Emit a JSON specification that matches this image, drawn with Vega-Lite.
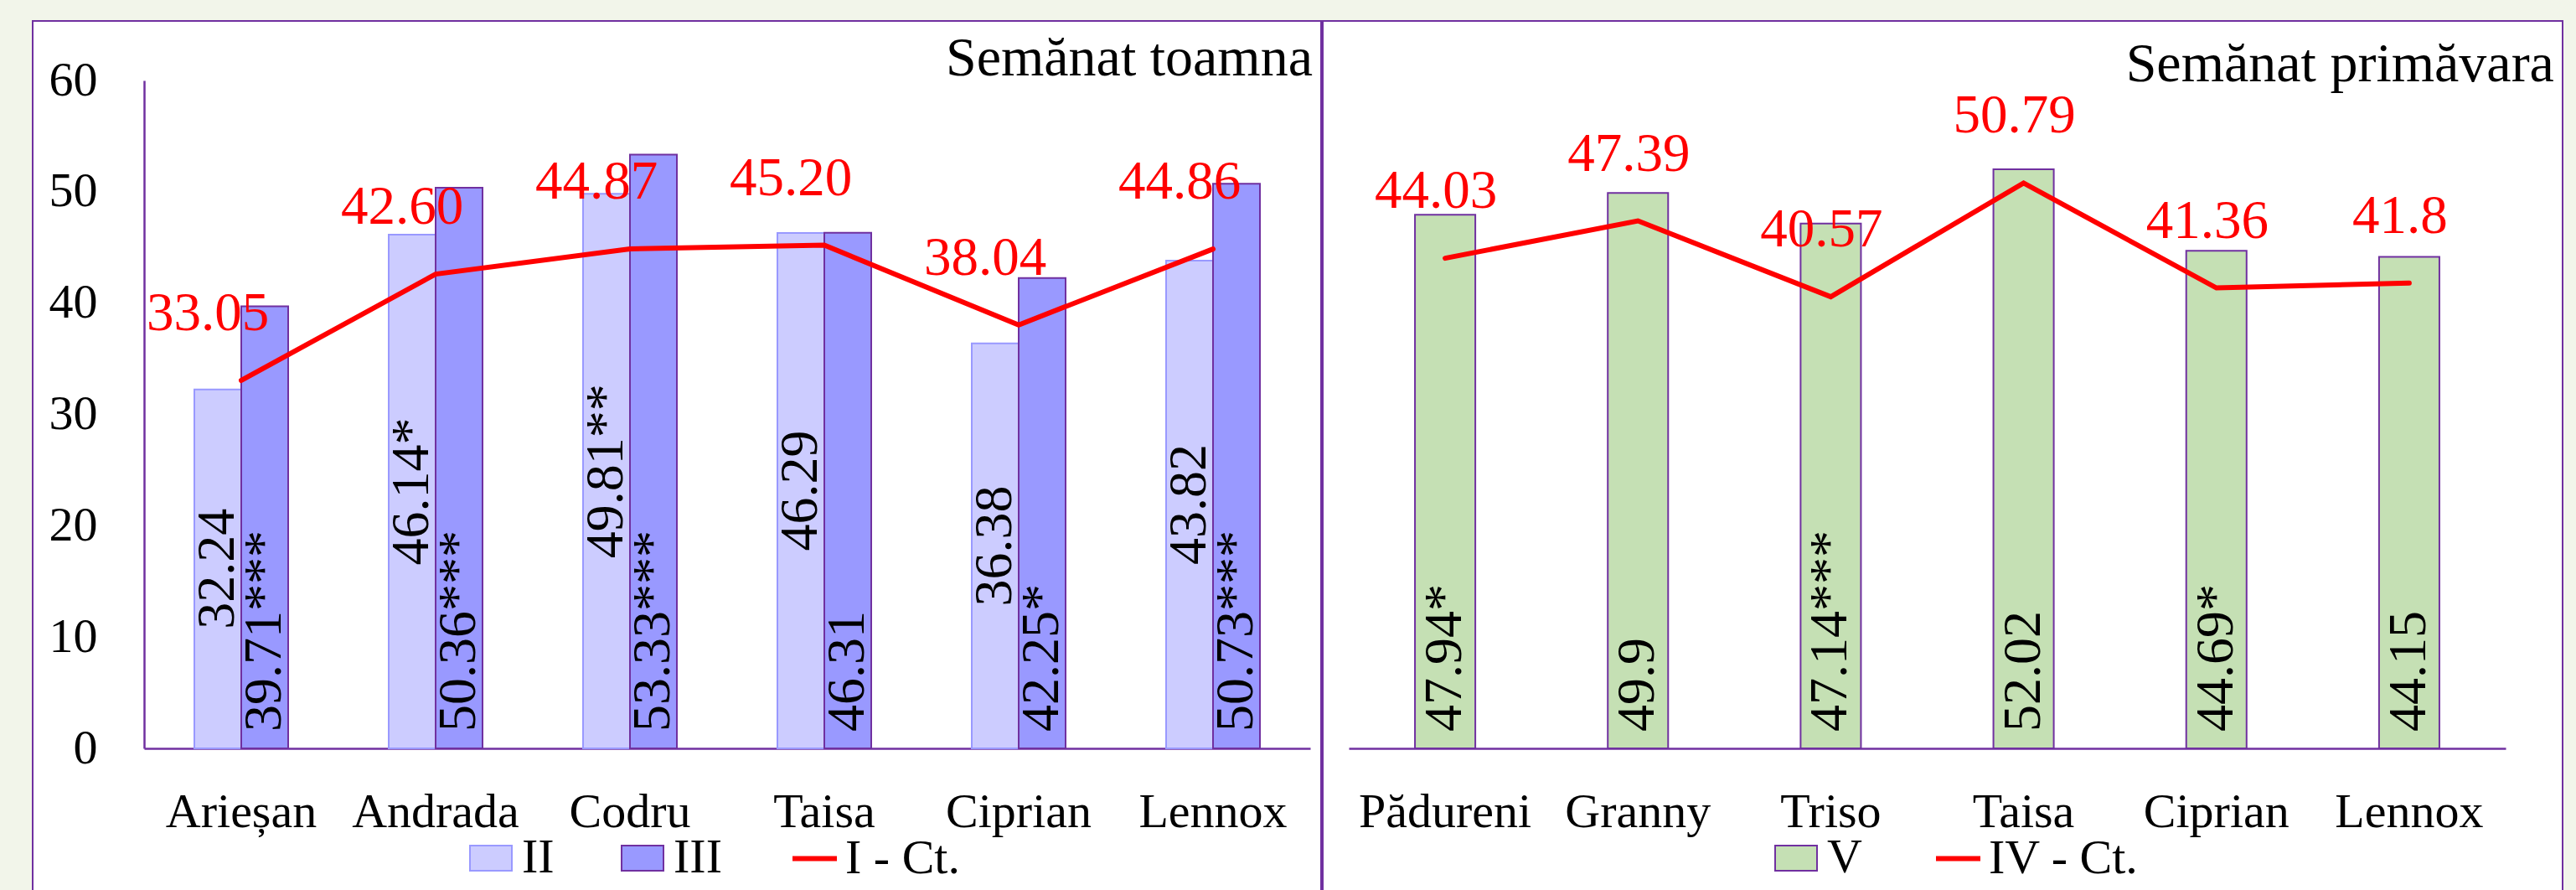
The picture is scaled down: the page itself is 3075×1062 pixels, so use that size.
{
  "$schema": "https://vega.github.io/schema/vega-lite/v6.json",
  "background": "#F2F5EA",
  "padding": {"left": 38, "top": 24, "right": 19, "bottom": 0},
  "autosize": {"type": "pad"},
  "spacing": 0,
  "datasets": {
    "toamna": [
      {"soi": "Arieșan", "serie": "II", "v": 32.24, "lab": "32.24"},
      {"soi": "Arieșan", "serie": "III", "v": 39.71, "lab": "39.71***"},
      {"soi": "Andrada", "serie": "II", "v": 46.14, "lab": "46.14*"},
      {"soi": "Andrada", "serie": "III", "v": 50.36, "lab": "50.36***"},
      {"soi": "Codru", "serie": "II", "v": 49.81, "lab": "49.81**"},
      {"soi": "Codru", "serie": "III", "v": 53.33, "lab": "53.33***"},
      {"soi": "Taisa", "serie": "II", "v": 46.29, "lab": "46.29"},
      {"soi": "Taisa", "serie": "III", "v": 46.31, "lab": "46.31"},
      {"soi": "Ciprian", "serie": "II", "v": 36.38, "lab": "36.38"},
      {"soi": "Ciprian", "serie": "III", "v": 42.25, "lab": "42.25*"},
      {"soi": "Lennox", "serie": "II", "v": 43.82, "lab": "43.82"},
      {"soi": "Lennox", "serie": "III", "v": 50.73, "lab": "50.73***"}
    ],
    "toamnaCt": [
      {"soi": "Arieșan", "ct": "I - Ct.", "v": 33.05, "lab": "33.05"},
      {"soi": "Andrada", "ct": "I - Ct.", "v": 42.60, "lab": "42.60"},
      {"soi": "Codru", "ct": "I - Ct.", "v": 44.87, "lab": "44.87"},
      {"soi": "Taisa", "ct": "I - Ct.", "v": 45.20, "lab": "45.20"},
      {"soi": "Ciprian", "ct": "I - Ct.", "v": 38.04, "lab": "38.04"},
      {"soi": "Lennox", "ct": "I - Ct.", "v": 44.86, "lab": "44.86"}
    ],
    "primavara": [
      {"soi": "Pădureni", "serie": "V", "v": 47.94, "lab": "47.94*"},
      {"soi": "Granny", "serie": "V", "v": 49.9, "lab": "49.9"},
      {"soi": "Triso", "serie": "V", "v": 47.14, "lab": "47.14***"},
      {"soi": "Taisa", "serie": "V", "v": 52.02, "lab": "52.02"},
      {"soi": "Ciprian", "serie": "V", "v": 44.69, "lab": "44.69*"},
      {"soi": "Lennox", "serie": "V", "v": 44.15, "lab": "44.15"}
    ],
    "primavaraCt": [
      {"soi": "Pădureni", "ct": "IV - Ct.", "v": 44.03, "lab": "44.03"},
      {"soi": "Granny", "ct": "IV - Ct.", "v": 47.39, "lab": "47.39"},
      {"soi": "Triso", "ct": "IV - Ct.", "v": 40.57, "lab": "40.57"},
      {"soi": "Taisa", "ct": "IV - Ct.", "v": 50.79, "lab": "50.79"},
      {"soi": "Ciprian", "ct": "IV - Ct.", "v": 41.36, "lab": "41.36"},
      {"soi": "Lennox", "ct": "IV - Ct.", "v": 41.8, "lab": "41.8"}
    ],
    "titluri": [
      {"panou": "toamna", "t": "Semănat toamna"},
      {"panou": "primavara", "t": "Semănat primăvara"}
    ]
  },
  "config": {
    "font": "Liberation Serif",
    "view": {"stroke": "#7030A0", "strokeWidth": 2, "fill": "white"},
    "axis": {"domainColor": "#7030A0", "domainWidth": 2.5, "ticks": false, "tickSize": 0, "grid": false, "labelFont": "Liberation Serif", "labelColor": "black"},
    "legend": {"labelFont": "Liberation Serif", "labelColor": "black"},
    "text": {"font": "Liberation Serif"}
  },
  "resolve": {"scale": {"x": "independent", "y": "independent", "xOffset": "independent", "fill": "independent", "stroke": "independent", "color": "independent"}},
  "hconcat": [
    {
      "width": 1538,
      "height": 1038,
      "resolve": {"scale": {"y": "independent"}},
      "layer": [
        {
          "data": {"name": "toamna"},
          "mark": {"type": "bar", "strokeWidth": 2},
          "encoding": {
            "x": {"field": "soi", "type": "nominal", "scale": {"domain": ["Arieșan", "Andrada", "Codru", "Taisa", "Ciprian", "Lennox"], "range": [133, 1525], "paddingInner": 0.5172, "paddingOuter": 0.2586}, "axis": {"orient": "bottom", "offset": -170, "labelFontSize": 58, "labelPadding": 47, "labelAngle": 0, "labelLimit": 400, "title": null}},
            "xOffset": {"field": "serie", "type": "nominal", "scale": {"domain": ["II", "III"]}},
            "y": {"field": "v", "type": "quantitative", "scale": {"domain": [0, 60], "range": [868, 71], "nice": false}, "axis": {"orient": "left", "offset": -133, "values": [0, 10, 20, 30, 40, 50, 60], "labelFontSize": 58, "labelPadding": 56, "title": null}},
            "fill": {"field": "serie", "type": "nominal", "scale": {"domain": ["II", "III"], "range": ["#CCCCFF", "#9999FF"]}, "legend": {"orient": "none", "legendX": 518, "legendY": 970, "direction": "horizontal", "title": null, "symbolType": "M-1,-0.6H1V0.6H-1Z", "symbolSize": 2500, "symbolStrokeWidth": 2, "labelFontSize": 58, "labelOffset": 8, "columnPadding": 76, "labelLimit": 500, "padding": 0}},
            "stroke": {"field": "serie", "type": "nominal", "scale": {"domain": ["II", "III"], "range": ["#9999FF", "#7030A0"]}, "legend": {"orient": "none", "legendX": 518, "legendY": 970, "direction": "horizontal", "title": null, "symbolType": "M-1,-0.6H1V0.6H-1Z", "symbolSize": 2500, "symbolStrokeWidth": 2, "labelFontSize": 58, "labelOffset": 8, "columnPadding": 76, "labelLimit": 500, "padding": 0}}
          }
        },
        {
          "data": {"name": "toamnaCt"},
          "mark": {"type": "line", "strokeWidth": 6, "strokeCap": "round"},
          "encoding": {
            "x": {"field": "soi", "type": "nominal"},
            "y": {"field": "v", "type": "quantitative", "scale": {"domain": [0, 60], "range": [868, 71], "nice": false}, "axis": null},
            "color": {"field": "ct", "type": "nominal", "scale": {"domain": ["I - Ct."], "range": ["#FF0000"]}, "legend": {"orient": "none", "legendX": 904, "legendY": 970, "title": null, "symbolType": "stroke", "symbolSize": 2809, "symbolStrokeWidth": 6, "labelFontSize": 58, "labelOffset": 7, "labelLimit": 500, "padding": 0}}
          }
        },
        {
          "data": {"name": "toamnaCt"},
          "mark": {"type": "text", "fontSize": 65, "color": "#FF0000", "baseline": "alphabetic", "align": "center", "dx": -40, "dy": -60},
          "encoding": {
            "x": {"field": "soi", "type": "nominal"},
            "y": {"field": "v", "type": "quantitative", "scale": {"domain": [0, 60], "range": [868, 71], "nice": false}, "axis": null},
            "text": {"field": "lab", "type": "nominal"}
          }
        },
        {
          "data": {"name": "toamna"},
          "transform": [{"filter": "datum.serie === 'II'"}],
          "mark": {"type": "text", "fontSize": 64, "color": "black", "angle": 270, "align": "center", "baseline": "middle"},
          "encoding": {
            "x": {"field": "soi", "type": "nominal"},
            "xOffset": {"field": "serie", "type": "nominal", "scale": {"domain": ["II", "III"]}},
            "y": {"field": "v", "type": "quantitative", "scale": {"domain": [0, 120], "range": [868, 71], "nice": false}, "axis": null},
            "text": {"field": "lab", "type": "nominal"}
          }
        },
        {
          "data": {"name": "toamna"},
          "transform": [{"filter": "datum.serie === 'III'"}],
          "mark": {"type": "text", "fontSize": 64, "color": "black", "angle": 270, "align": "left", "baseline": "middle", "dx": 20},
          "encoding": {
            "x": {"field": "soi", "type": "nominal"},
            "xOffset": {"field": "serie", "type": "nominal", "scale": {"domain": ["II", "III"]}},
            "y": {"datum": 0, "type": "quantitative", "scale": {"domain": [0, 60], "range": [868, 71], "nice": false}, "axis": null},
            "text": {"field": "lab", "type": "nominal"}
          }
        },
        {
          "data": {"name": "titluri"},
          "transform": [{"filter": "datum.panou === 'toamna'"}],
          "mark": {"type": "text", "fontSize": 66, "color": "black", "align": "right", "baseline": "alphabetic", "dx": 119},
          "encoding": {
            "x": {"datum": "Lennox", "type": "nominal"},
            "y": {"datum": 60.45, "type": "quantitative", "scale": {"domain": [0, 60], "range": [868, 71], "nice": false}, "axis": null},
            "text": {"field": "t", "type": "nominal"}
          }
        }
      ]
    },
    {
      "width": 1480,
      "height": 1038,
      "layer": [
        {
          "data": {"name": "primavara"},
          "mark": {"type": "bar", "strokeWidth": 2},
          "encoding": {
            "x": {"field": "soi", "type": "nominal", "scale": {"domain": ["Pădureni", "Granny", "Triso", "Taisa", "Ciprian", "Lennox"], "range": [31, 1412], "paddingInner": 0.687, "paddingOuter": 0.3435}, "axis": {"orient": "bottom", "offset": -170, "labelFontSize": 58, "labelPadding": 47, "labelAngle": 0, "labelLimit": 400, "title": null}},
            "y": {"field": "v", "type": "quantitative", "scale": {"domain": [0, 60], "range": [868, 71], "nice": false}, "axis": null},
            "fill": {"field": "serie", "type": "nominal", "scale": {"domain": ["V"], "range": ["#C5E0B4"]}, "legend": {"orient": "none", "legendX": 536, "legendY": 970, "direction": "horizontal", "title": null, "symbolType": "M-1,-0.6H1V0.6H-1Z", "symbolSize": 2500, "symbolStrokeWidth": 2, "labelFontSize": 58, "labelOffset": 8, "labelLimit": 500, "padding": 0}},
            "stroke": {"field": "serie", "type": "nominal", "scale": {"domain": ["V"], "range": ["#7030A0"]}, "legend": {"orient": "none", "legendX": 536, "legendY": 970, "direction": "horizontal", "title": null, "symbolType": "M-1,-0.6H1V0.6H-1Z", "symbolSize": 2500, "symbolStrokeWidth": 2, "labelFontSize": 58, "labelOffset": 8, "labelLimit": 500, "padding": 0}}
          }
        },
        {
          "data": {"name": "primavaraCt"},
          "mark": {"type": "line", "strokeWidth": 6, "strokeCap": "round"},
          "encoding": {
            "x": {"field": "soi", "type": "nominal"},
            "y": {"field": "v", "type": "quantitative"},
            "color": {"field": "ct", "type": "nominal", "scale": {"domain": ["IV - Ct."], "range": ["#FF0000"]}, "legend": {"orient": "none", "legendX": 729, "legendY": 970, "title": null, "symbolType": "stroke", "symbolSize": 2809, "symbolStrokeWidth": 6, "labelFontSize": 58, "labelOffset": 7, "labelLimit": 500, "padding": 0}}
          }
        },
        {
          "data": {"name": "primavaraCt"},
          "mark": {"type": "text", "fontSize": 65, "color": "#FF0000", "baseline": "alphabetic", "align": "center", "dx": -11, "dy": -60},
          "encoding": {
            "x": {"field": "soi", "type": "nominal"},
            "y": {"field": "v", "type": "quantitative"},
            "text": {"field": "lab", "type": "nominal"}
          }
        },
        {
          "data": {"name": "primavara"},
          "mark": {"type": "text", "fontSize": 64, "color": "black", "angle": 270, "align": "left", "baseline": "middle", "dx": 20},
          "encoding": {
            "x": {"field": "soi", "type": "nominal"},
            "y": {"datum": 0, "type": "quantitative"},
            "text": {"field": "lab", "type": "nominal"}
          }
        },
        {
          "data": {"name": "titluri"},
          "transform": [{"filter": "datum.panou === 'primavara'"}],
          "mark": {"type": "text", "fontSize": 66, "color": "black", "align": "right", "baseline": "alphabetic", "dx": 173},
          "encoding": {
            "x": {"datum": "Lennox", "type": "nominal"},
            "y": {"datum": 59.93, "type": "quantitative"},
            "text": {"field": "t", "type": "nominal"}
          }
        }
      ]
    }
  ]
}
